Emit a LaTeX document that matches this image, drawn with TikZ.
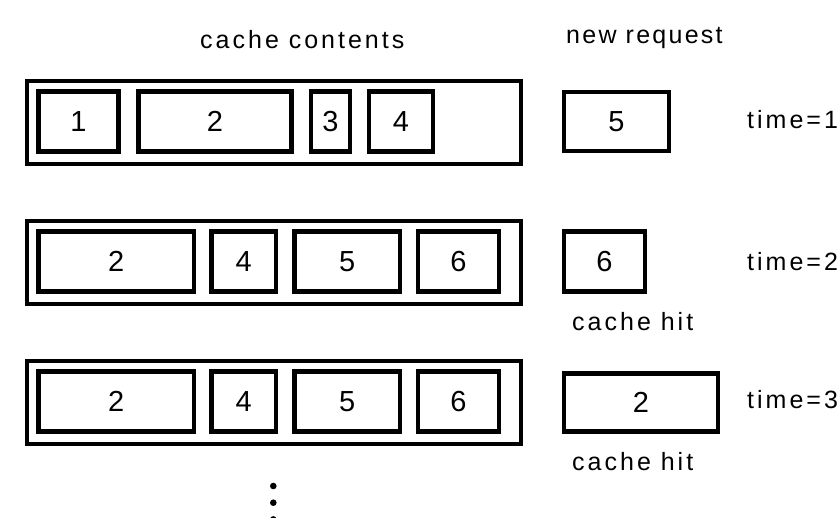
\documentclass[tikz,border=0pt]{standalone}
\usepackage{fontspec}
\setmainfont{Liberation Sans}
\newfontfamily\lblfont[LetterSpace=12]{Liberation Sans}
\newfontfamily\reqfont[LetterSpace=9]{Liberation Sans}
\begin{document}
\begin{tikzpicture}[x=1pt,y=-1pt,
  outerbox/.style={draw, line width=4.5pt, inner sep=0pt, minimum height=83pt},
  cell/.style={draw, line width=4.5pt, inner sep=0pt, minimum height=60pt,
    font=\fontsize{29}{34}\selectfont},
  lbl/.style={inner sep=0pt, anchor=base west, font=\fontsize{25}{30}\lblfont},
  dot/.style={fill=black, circle, inner sep=0pt, minimum size=6.6pt}]
\useasboundingbox (0,0) rectangle (838,517);

% headings
\node[lbl] (hcache) at (200,48) {cache contents};
\node[lbl, font=\fontsize{25}{30}\reqfont] (hreq) at (566,43) {new request};

% row 1
\node[outerbox, minimum width=494pt] (c1) at (273.75,122.5) {};
\node[cell, minimum width=80pt] (c1a) at (78.5,121.5) {1};
\node[cell, minimum width=153pt] (c1b) at (215,121.5) {2};
\node[cell, minimum width=39pt] (c1c) at (330.5,121.5) {3};
\node[cell, minimum width=64pt] (c1d) at (401,121.5) {4};
\node[cell, minimum width=105pt, minimum height=59pt] (r1) at (616.5,121.5) {5};
\node[lbl] (t1) at (747,128) {time=1};

% row 2
\node[outerbox, minimum width=494pt] (c2) at (273.75,262.5) {};
\node[cell, minimum width=155.5pt] (c2a) at (116.25,261.5) {2};
\node[cell, minimum width=64.5pt] (c2b) at (243.75,261.5) {4};
\node[cell, minimum width=105.5pt] (c2c) at (347.25,261.5) {5};
\node[cell, minimum width=81pt] (c2d) at (458.5,261.5) {6};
\node[cell, minimum width=81pt] (r2) at (604.5,261.5) {6};
\node[lbl] (t2) at (747,270) {time=2};
\node[lbl] (h2) at (572,330) {cache hit};

% row 3
\node[outerbox, minimum width=494pt] (c3) at (273.75,402.5) {};
\node[cell, minimum width=155.5pt] (c3a) at (116.25,401.5) {2};
\node[cell, minimum width=64.5pt] (c3b) at (243.75,401.5) {4};
\node[cell, minimum width=105.5pt] (c3c) at (347.25,401.5) {5};
\node[cell, minimum width=81pt] (c3d) at (458.5,401.5) {6};
\node[cell, minimum width=154pt, minimum height=58pt] (r3) at (641,402.5) {2};
\node[lbl] (t3) at (747,408.5) {time=3};
\node[lbl] (h3) at (572,470) {cache hit};

% continuation dots
\node[dot] (d1) at (273.3,486) {};
\node[dot] (d2) at (273.3,502.7) {};
\node[dot] (d3) at (273.3,519.4) {};
\end{tikzpicture}
\end{document}
